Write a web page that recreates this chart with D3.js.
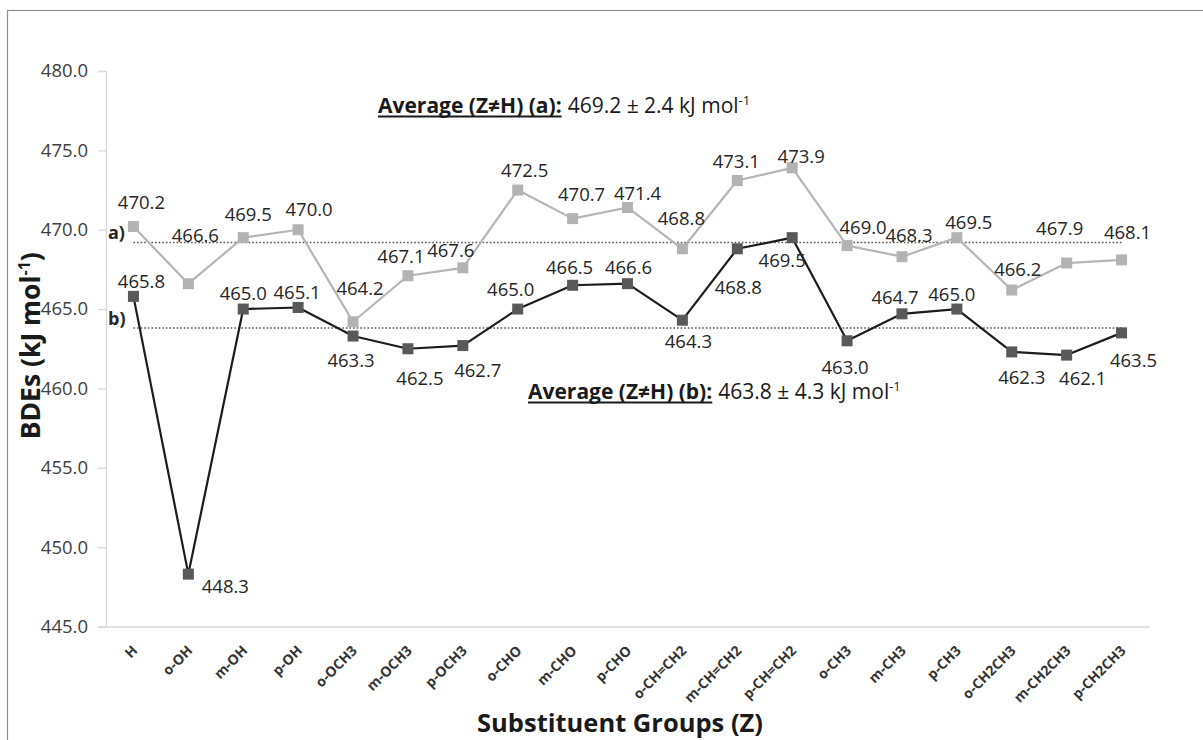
<!DOCTYPE html>
<html>
<head>
<meta charset="utf-8">
<script src="https://cdn.jsdelivr.net/npm/d3@7"></script>
<style>
  html, body { margin: 0; padding: 0; background: #fff; }
  svg { display: block; }
</style>
</head>
<body>
<svg id="chart" width="1203" height="740"></svg>
<script>
// Substituent groups on the ring
const categories = ["H", "o-OH", "m-OH", "p-OH", "o-OCH3", "m-OCH3", "p-OCH3",
  "o-CHO", "m-CHO", "p-CHO", "o-CH=CH2", "m-CH=CH2", "p-CH=CH2",
  "o-CH3", "m-CH3", "p-CH3", "o-CH2CH3", "m-CH2CH3", "p-CH2CH3"];

// Bond dissociation energies, kJ/mol
const seriesA = [470.2, 466.6, 469.5, 470.0, 464.2, 467.1, 467.6, 472.5, 470.7, 471.4,
  468.8, 473.1, 473.9, 469.0, 468.3, 469.5, 466.2, 467.9, 468.1];
const seriesB = [465.8, 448.3, 465.0, 465.1, 463.3, 462.5, 462.7, 465.0, 466.5, 466.6,
  464.3, 468.8, 469.5, 463.0, 464.7, 465.0, 462.3, 462.1, 463.5];

// Averages over Z≠H with standard deviation
const averageA = [469.2, 2.4];
const averageB = [463.8, 4.3];

const yTicks = [445, 450, 455, 460, 465, 470, 475, 480];

// Hand-placed value label offsets (px) relative to each marker
const labelOffsetA = [[8,-25],[7,-49],[5,-24],[11,-21],[7,-34],[-7,-20],[-12,-18],[7,-21],
  [9,-25],[10,-15],[-1,-31],[-1,-20],[9,-12],[16,-19],[7,-22],[12,-16],[6,-22],[-7,-36],[6,-28]];
const labelOffsetB = [[8,-16],[37,11],[0,-17],[-1,-16],[-2,23],[12,29],[15,24],[-7,-21],
  [-3,-19],[1,-17],[6,20],[1,38],[-10,22],[-2,26],[-7,-17],[-5,-16],[10,25],[16,22],[12,27]];

const svg = d3.select("#chart");
const FONT = "'Open Sans', 'Noto Sans', sans-serif";

// Outer frame
svg.append("rect")
  .attr("x", 7.5).attr("y", 10.5)
  .attr("width", 1210).attr("height", 750)
  .attr("fill", "none").attr("stroke", "#8c8c8c").attr("stroke-width", 1.2);

const plot = { left: 106, right: 1149, top: 71, bottom: 626.5 };

const x = d3.scaleBand().domain(categories).range([plot.left, plot.right]);
const y = d3.scaleLinear().domain([445, 480]).range([plot.bottom, plot.top]);
const cx = d => x(d) + x.bandwidth() / 2;

// Y axis
const yAxis = svg.append("g")
  .attr("transform", `translate(${plot.left},0)`)
  .call(d3.axisLeft(y).tickValues(yTicks).tickFormat(d3.format(".1f")).tickSize(8).tickPadding(10));
yAxis.select(".domain").attr("stroke", "#d9d9d9").attr("stroke-width", 1.3);
yAxis.selectAll(".tick line").attr("stroke", "#d9d9d9").attr("stroke-width", 1.3);
yAxis.selectAll(".tick text")
  .attr("font-family", FONT).attr("font-size", 18.5).attr("fill", "#404040");

// X axis
const xAxis = svg.append("g")
  .attr("transform", `translate(0,${plot.bottom})`)
  .call(d3.axisBottom(x).tickSize(0).tickPadding(0));
xAxis.select(".domain").attr("stroke", "#d9d9d9").attr("stroke-width", 1.3);
xAxis.selectAll(".tick text")
  .attr("font-family", FONT).attr("font-size", 14).attr("font-weight", "bold")
  .attr("fill", "#333")
  .attr("text-anchor", "end")
  .attr("dy", 0)
  .attr("transform", "translate(5,25) rotate(-45)");

// Average reference lines
function averageLine(avg, tag) {
  svg.append("line")
    .attr("x1", cx(categories[0])).attr("x2", cx(categories[categories.length - 1]))
    .attr("y1", y(avg)).attr("y2", y(avg))
    .attr("stroke", "#555").attr("stroke-width", 1.5)
    .attr("stroke-dasharray", "1.6,2");
  svg.append("text")
    .attr("x", 108).attr("y", y(avg) - 3)
    .attr("font-family", FONT).attr("font-size", 18).attr("font-weight", "bold")
    .attr("fill", "#262626").text(tag);
}
averageLine(averageA[0], "a)");
averageLine(averageB[0], "b)");

// Series lines and markers
function drawSeries(values, lineColor, markerColor, offsets) {
  const pts = values.map((v, i) => [cx(categories[i]), y(v)]);
  svg.append("path")
    .attr("d", d3.line()(pts))
    .attr("fill", "none").attr("stroke", lineColor).attr("stroke-width", 2.2)
    .attr("stroke-linejoin", "round");
  svg.append("g").selectAll("rect").data(pts).join("rect")
    .attr("x", d => d[0] - 5.5).attr("y", d => d[1] - 5.5)
    .attr("width", 11).attr("height", 11)
    .attr("fill", markerColor);
  svg.append("g").selectAll("text").data(values).join("text")
    .attr("x", (v, i) => pts[i][0] + offsets[i][0])
    .attr("y", (v, i) => pts[i][1] + offsets[i][1])
    .attr("text-anchor", "middle").attr("dominant-baseline", "central")
    .attr("font-family", FONT).attr("font-size", 18.5).attr("fill", "#262626")
    .text(v => v.toFixed(1));
}
drawSeries(seriesA, "#b5b5b5", "#b3b3b3", labelOffsetA);
drawSeries(seriesB, "#1c1c1c", "#595959", labelOffsetB);

// Average annotations: bold underlined heading followed by value ± sd
function averageNote(x0, baseline, tag, stats) {
  const head = svg.append("text")
    .attr("x", x0).attr("y", baseline)
    .attr("font-family", FONT).attr("font-size", 21).attr("font-weight", "bold")
    .attr("fill", "#1a1a1a")
    .text(`Average (Z≠H) (${tag}):`);
  const w = head.node().getComputedTextLength();
  svg.append("line")
    .attr("x1", x0).attr("x2", x0 + w)
    .attr("y1", baseline + 3.5).attr("y2", baseline + 3.5)
    .attr("stroke", "#1a1a1a").attr("stroke-width", 1.8);
  const body = svg.append("text")
    .attr("x", x0 + w + 6).attr("y", baseline)
    .attr("font-family", FONT).attr("font-size", 21).attr("fill", "#1a1a1a");
  body.append("tspan").text(`${stats[0].toFixed(1)} ± ${stats[1].toFixed(1)} kJ mol`);
  body.append("tspan").attr("dy", -8).attr("font-size", 13).text("-1");
}
averageNote(378, 113, "a", averageA);
averageNote(528, 399, "b", averageB);

// Axis titles
const yTitle = svg.append("text")
  .attr("transform", `translate(40,${(plot.top + plot.bottom) / 2 - 3}) rotate(-90)`)
  .attr("text-anchor", "middle")
  .attr("font-family", FONT).attr("font-size", 26.5).attr("font-weight", "bold")
  .attr("fill", "#1a1a1a");
yTitle.append("tspan").text("BDEs (kJ mol");
yTitle.append("tspan").attr("dy", -10).attr("font-size", 16).text("-1");
yTitle.append("tspan").attr("dy", 10).text(")");

svg.append("text")
  .attr("x", 620).attr("y", 732)
  .attr("text-anchor", "middle")
  .attr("font-family", FONT).attr("font-size", 25.5).attr("font-weight", "bold")
  .attr("fill", "#1a1a1a")
  .text("Substituent Groups (Z)");
</script>
</body>
</html>
